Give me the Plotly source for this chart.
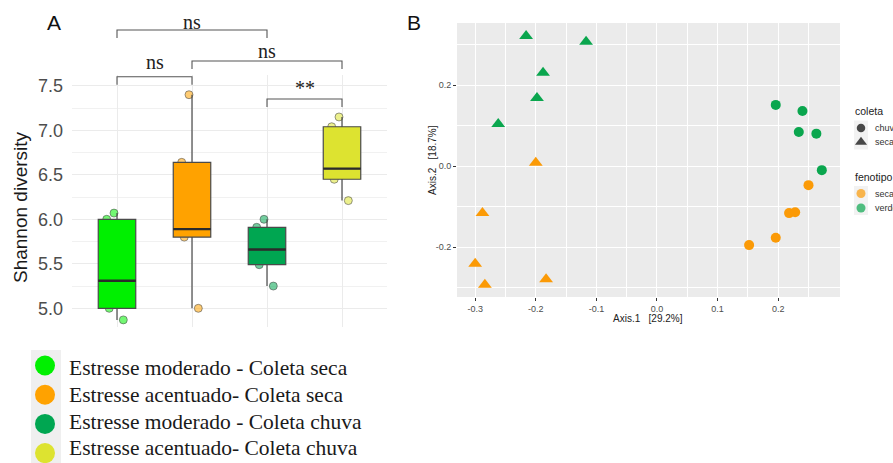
import numpy as np
import plotly.graph_objects as go

W, H = 893, 463

# ---------------- Panel A data ----------------
groups = ["Estresse moderado - Coleta seca", "Estresse acentuado- Coleta seca",
          "Estresse moderado - Coleta chuva", "Estresse acentuado- Coleta chuva"]
group_colors = ["#00f000", "#ffa200", "#00a651", "#dde330"]
shannon_mod_seca = [4.87, 5.00, 5.31, 6.00, 6.07]
shannon_acc_seca = [5.00, 5.80, 5.89, 6.64, 7.40]
shannon_mod_chuva = [5.25, 5.49, 5.66, 5.91, 6.00]
shannon_acc_chuva = [6.21, 6.45, 6.57, 7.04, 7.15]
shannon = [shannon_mod_seca, shannon_acc_seca, shannon_mod_chuva, shannon_acc_chuva]
y_ticks_a = [5.0, 5.5, 6.0, 6.5, 7.0, 7.5]

# significance brackets
sig_from = [0, 0, 1, 2]
sig_to = [2, 1, 3, 3]
sig_label = ["ns", "ns", "ns", "**"]
sig_line_y = [8.127, 7.602, 7.779, 7.352]
sig_text_y = [8.22, 7.77, 7.89, 7.47]
sig_tip = 0.09

# ---------------- Panel B data ----------------
pcoa_x = [-0.216, -0.117, -0.188, -0.198, -0.262,
          -0.200, -0.288, -0.300, -0.284, -0.183,
          0.196, 0.240, 0.234, 0.263, 0.272,
          0.250, 0.218, 0.228, 0.196, 0.152]
pcoa_y = [0.321, 0.307, 0.230, 0.168, 0.104,
          0.008, -0.116, -0.241, -0.293, -0.279,
          0.151, 0.136, 0.084, 0.080, -0.010,
          -0.047, -0.116, -0.114, -0.177, -0.195]
coleta = ["seca"] * 10 + ["chuva"] * 10
fenotipo = ["verde"] * 5 + ["seca"] * 5 + ["verde"] * 5 + ["seca"] * 5
fen_colors = {"seca": "#fb9a06", "verde": "#0aa64e"}
col_symbols = {"chuva": "circle", "seca": "triangle-up"}
x_ticks_b = [-0.3, -0.2, -0.1, 0.0, 0.1, 0.2]
y_ticks_b = [-0.2, 0.0, 0.2]

SANS = "Liberation Sans, Arial, sans-serif"
SERIF = "Liberation Serif, Times New Roman, serif"


def rgba(hexc, a):
    h = hexc.lstrip("#")
    r, g, b = int(h[0:2], 16), int(h[2:4], 16), int(h[4:6], 16)
    return f"rgba({r},{g},{b},{a})"


fig = go.Figure()

# ---- Panel A boxes ----
BOXW = 0.5
for i, (vals, col) in enumerate(zip(shannon, group_colors)):
    fig.add_trace(go.Box(
        x=[i] * len(vals), y=vals, xaxis="x", yaxis="y",
        boxpoints="all", jitter=0.65, pointpos=0, width=BOXW,
        fillcolor="rgba(0,0,0,0)", line=dict(width=0, color="rgba(0,0,0,0)"),
        whiskerwidth=0, quartilemethod="inclusive",
        marker=dict(color=rgba(col, 0.55), size=8,
                    line=dict(color="rgba(70,70,70,0.55)", width=1)),
        showlegend=False, hoverinfo="skip"))
    fig.add_trace(go.Box(
        x=[i] * len(vals), y=vals, xaxis="x", yaxis="y",
        boxpoints=False, width=BOXW, fillcolor=col,
        line=dict(color="#4a4a4a", width=1.2), whiskerwidth=0,
        quartilemethod="inclusive", showlegend=False, hoverinfo="skip"))
    med = float(np.median(vals))
    fig.add_trace(go.Scatter(
        x=[i - BOXW / 2, i + BOXW / 2], y=[med, med], mode="lines",
        line=dict(color="#2b2b2b", width=2.4), xaxis="x", yaxis="y",
        showlegend=False, hoverinfo="skip"))

# ---- brackets ----
bx, by = [], []
for a, b, ly in zip(sig_from, sig_to, sig_line_y):
    bx += [a, a, b, b, None]
    by += [ly - sig_tip, ly, ly, ly - sig_tip, None]
fig.add_trace(go.Scatter(x=bx, y=by, mode="lines", xaxis="x3", yaxis="y3",
                         line=dict(color="#555555", width=1.1),
                         showlegend=False, hoverinfo="skip"))
annotations = []
for a, b, lab, ty in zip(sig_from, sig_to, sig_label, sig_text_y):
    annotations.append(dict(x=(a + b) / 2, y=ty, xref="x3", yref="y3", text=lab,
                            showarrow=False, font=dict(family=SERIF, size=20, color="#222222"),
                            xanchor="center", yanchor="middle"))

# ---- Panel A legend (custom) ----
leg_dot_y = [365.5 + 29.2 * k for k in range(len(groups))]
leg_txt_y = [368 + 26.8 * k for k in range(len(groups))]
fig.add_trace(go.Scatter(x=[45] * len(groups), y=leg_dot_y, mode="markers",
                         xaxis="x4", yaxis="y4",
                         marker=dict(color=group_colors, size=20, line=dict(width=0)),
                         showlegend=False, hoverinfo="skip"))
for g, yy in zip(groups, leg_txt_y):
    annotations.append(dict(x=67, y=yy, xref="x4", yref="y4", text=g, showarrow=False,
                            xanchor="left", yanchor="middle",
                            font=dict(family=SERIF, size=21.5, color="#1a1a1a")))

# ---- Panel B scatter ----
for c in ["chuva", "seca"]:
    for f in ["seca", "verde"]:
        idx = [k for k in range(len(pcoa_x)) if coleta[k] == c and fenotipo[k] == f]
        fig.add_trace(go.Scatter(
            x=[pcoa_x[k] for k in idx], y=[pcoa_y[k] for k in idx],
            mode="markers", xaxis="x2", yaxis="y2",
            marker=dict(color=fen_colors[f], symbol=col_symbols[c],
                        size=10 if c == "chuva" else 12, line=dict(width=0)),
            showlegend=False, hoverinfo="skip"))

# ---- Panel B legend (custom) ----
legb_x = [861, 861, 861, 861]
legb_y = [128, 142, 193.5, 208]
legb_sym = ["circle", "triangle-up", "circle", "circle"]
legb_col = ["#000000", "#000000", fen_colors["seca"], fen_colors["verde"]]
legb_size = [8.5, 10.5, 9, 9]
legb_text = ["chuva", "seca", "seca", "verde"]
shapes = []
for y0, y1 in [(120.5, 149.5), (186, 215)]:
    shapes.append(dict(type="rect", xref="x5", yref="y5", x0=854, x1=868, y0=y0, y1=y1,
                       fillcolor="#f2f2f2", line=dict(width=0), layer="below"))
fig.add_trace(go.Scatter(x=legb_x, y=legb_y, mode="markers", xaxis="x5", yaxis="y5",
                         marker=dict(color=legb_col, symbol=legb_sym, size=legb_size,
                                     line=dict(width=0)),
                         showlegend=False, hoverinfo="skip"))
for t, yy in zip(legb_text, legb_y):
    annotations.append(dict(x=873, y=yy, xref="x5", yref="y5", text=t, showarrow=False,
                            xanchor="left", yanchor="middle",
                            font=dict(family=SANS, size=9, color="#333333")))
for t, yy in [("coleta", 111), ("fenotipo", 177)]:
    annotations.append(dict(x=853, y=yy, xref="x5", yref="y5", text=t, showarrow=False,
                            xanchor="left", yanchor="middle",
                            font=dict(family=SANS, size=10.5, color="#222222")))

# background of panel B
shapes.append(dict(type="rect", xref="x2 domain", yref="y2 domain", x0=0, x1=1, y0=0, y1=1,
                   fillcolor="#ebebeb", line=dict(width=0), layer="below"))
# gray strip behind legend A keys
shapes.append(dict(type="rect", xref="paper", yref="paper", x0=31 / W, x1=61 / W,
                   y0=0, y1=1 - 350 / H, fillcolor="#efefef", line=dict(width=0), layer="below"))

# panel labels and axis titles
def pa(x, y, text, size, angle=0, color="#1a1a1a"):
    return dict(x=x / W, y=1 - y / H, xref="paper", yref="paper", text=text, showarrow=False,
                xanchor="center", yanchor="middle", textangle=angle,
                font=dict(family=SANS, size=size, color=color))


annotations += [
    pa(54, 22.5, "A", 21, color="#111111"),
    pa(414, 23, "B", 21, color="#111111"),
    pa(20, 207, "Shannon diversity", 19, angle=-90),
    pa(647.5, 318, "Axis.1   [29.2%]", 10, color="#222222"),
    pa(432, 160, "Axis.2   [18.7%]", 10, angle=-90, color="#222222"),
]

# geometry of panel A
A_L, A_R, A_T, A_B = 72, 387, 75, 327
Y_LO = 4.79
PX_PER_UNIT = 89.0
y_hi = Y_LO + (A_B - A_T) / PX_PER_UNIT
y3_hi = Y_LO + A_B / PX_PER_UNIT
xr_a = [-0.6, 3.6]

fig.update_layout(
    width=W, height=H, margin=dict(l=0, r=0, t=0, b=0),
    paper_bgcolor="white", plot_bgcolor="rgba(0,0,0,0)", boxmode="overlay",
    showlegend=False, font=dict(family=SANS),
    xaxis=dict(domain=[A_L / W, A_R / W], range=xr_a, tickvals=[0, 1, 2, 3],
               showticklabels=False, ticks="", showgrid=True, gridcolor="#ebebeb",
               gridwidth=1, zeroline=False, showline=False, anchor="y"),
    yaxis=dict(domain=[1 - A_B / H, 1 - A_T / H], range=[Y_LO, y_hi], tickvals=y_ticks_a,
               ticktext=[f"{v:.1f}" for v in y_ticks_a], ticks="", ticklabelstandoff=8,
               tickfont=dict(size=18, color="#4d4d4d", family=SANS),
               showgrid=True, gridcolor="#ebebeb", gridwidth=1, zeroline=False,
               minor=dict(tickvals=[5.25, 5.75, 6.25, 6.75, 7.25], showgrid=True,
                          gridcolor="#f1f1f1", gridwidth=0.7),
               anchor="x"),
    xaxis3=dict(domain=[A_L / W, A_R / W], range=xr_a, visible=False, anchor="y3"),
    yaxis3=dict(domain=[1 - A_B / H, 1], range=[Y_LO, y3_hi], visible=False, anchor="x3"),
    xaxis2=dict(domain=[457 / W, 840 / W], range=[-0.33, 0.302], tickvals=x_ticks_b,
                ticktext=[f"{v:.1f}" for v in x_ticks_b], ticks="outside", ticklen=3,
                tickcolor="#333333", tickwidth=1,
                tickfont=dict(size=9, color="#4d4d4d", family=SANS),
                showgrid=True, gridcolor="white", gridwidth=1.1, zeroline=False,
                minor=dict(tickvals=[-0.25, -0.15, -0.05, 0.05, 0.15, 0.25], showgrid=True,
                           gridcolor="white", gridwidth=0.5),
                anchor="y2"),
    yaxis2=dict(domain=[1 - 297 / H, 1 - 23 / H], range=[-0.323, 0.353], tickvals=y_ticks_b,
                ticktext=[f"{v:.1f}" for v in y_ticks_b], ticks="outside", ticklen=3,
                tickcolor="#333333", tickwidth=1,
                tickfont=dict(size=9, color="#4d4d4d", family=SANS),
                showgrid=True, gridcolor="white", gridwidth=1.1, zeroline=False,
                minor=dict(tickvals=[-0.3, -0.1, 0.1, 0.3], showgrid=True,
                           gridcolor="white", gridwidth=0.5),
                anchor="x2"),
    xaxis4=dict(domain=[0, 400 / W], range=[0, 400], visible=False, anchor="y4"),
    yaxis4=dict(domain=[0, 1 - 345 / H], range=[H, 345], visible=False, anchor="x4"),
    xaxis5=dict(domain=[848 / W, 1], range=[848, W], visible=False, anchor="y5"),
    yaxis5=dict(domain=[1 - 225 / H, 1 - 95 / H], range=[225, 95], visible=False, anchor="x5"),
    annotations=annotations, shapes=shapes,
)

fig.write_html("out.html")
